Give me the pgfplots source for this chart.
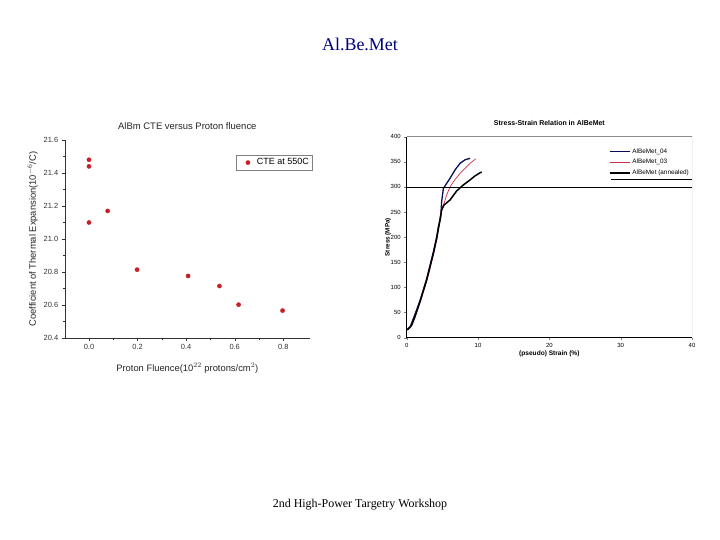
\documentclass[border=0pt]{standalone}
\usepackage{pgfplots}
\pgfplotsset{compat=1.18}
\usepackage{fontspec}
\setmainfont{Liberation Sans}
\newfontfamily\slidefont{Liberation Serif}
\definecolor{ctered}{RGB}{200,30,40}
\definecolor{navy}{RGB}{10,10,90}
\definecolor{ssred}{RGB}{200,50,70}
\definecolor{titleblue}{RGB}{0,0,128}

\begin{document}
\begin{tikzpicture}[x=1bp,y=1bp]
\path[fill=white] (0,0) rectangle (720,540);
\node[font=\slidefont\fontsize{18}{20}\selectfont, text=titleblue] at (360,496) {Al.Be.Met};
\node[font=\slidefont\fontsize{12}{14}\selectfont] at (360,35) {2nd High-Power Targetry Workshop};

% left chart: CTE vs fluence
\begin{axis}[
    at={(64.7bp,202bp)}, anchor=south west,
    scale only axis, width=245.3bp, height=198bp,
    xmin=-0.1, xmax=0.91, ymin=20.4, ymax=21.6,
    axis x line*=bottom, axis y line*=left,
    axis line style={-, black!80},
    tick align=outside, major tick length=3bp, minor tick length=1.8bp,
    tick style={black!80},
    xtick={0,0.2,0.4,0.6,0.8},
    ytick={20.4,20.6,20.8,21.0,21.2,21.4,21.6},
    minor x tick num=1, minor y tick num=1,
    xticklabel style={/pgf/number format/.cd, fixed, fixed zerofill, precision=1},
    yticklabel style={/pgf/number format/.cd, fixed, fixed zerofill, precision=1},
    /pgf/number format/assume math mode=true,
    ticklabel style={font=\fontsize{7.5}{9}\selectfont, text=black!80},
    title={AlBm CTE versus Proton fluence},
    title style={at={(axis description cs:0.5,1)}, anchor=base, yshift=5bp, font=\fontsize{9.5}{11}\selectfont, text=black!85},
    xlabel={Proton Fluence(10$^{22}$ protons/cm$^{2}$)},
    ylabel={Coefficient of Thermal Expansion(10$^{-6}$/C)},
    every axis x label/.style={at={(axis description cs:0.5,-0.152)}, anchor=center, font=\fontsize{9.4}{11}\selectfont, text=black!85},
    every axis y label/.style={at={(axis description cs:-0.13,0.5)}, rotate=90, anchor=center, font=\fontsize{9.4}{11}\selectfont, text=black!85},
    legend style={at={(1.01,0.924)}, anchor=north east, draw=black!50, font=\fontsize{9}{10}\selectfont, inner sep=1.5bp},
    legend image code/.code={\draw[#1, only marks] plot coordinates {(10bp,0bp)}; \path[draw=none] (0bp,0bp) -- (17bp,0bp);},
]
\addplot[only marks, mark=*, mark size=2.1bp, color=ctered] coordinates {
    (0,21.48) (0,21.44) (0,21.10) (0.077,21.17) (0.198,20.814)
    (0.408,20.776) (0.537,20.715) (0.616,20.602) (0.797,20.566)
};
\legend{CTE at 550C}
\end{axis}

% right chart: stress-strain
\begin{axis}[
    at={(406.7bp,202.3bp)}, anchor=south west,
    scale only axis, width=285.3bp, height=201bp,
    xmin=0, xmax=40, ymin=0, ymax=400,
    axis x line*=bottom, axis y line*=left,
    axis line style={-, black, line width=0.6bp},
    tick align=outside, major tick length=2.5bp,
    xtick={0,10,20,30,40}, ytick={0,50,100,150,200,250,300,350,400},
    /pgf/number format/assume math mode=true,
    ticklabel style={font=\fontsize{6}{7}\selectfont},
    title={\textbf{Stress-Strain Relation in AlBeMet}},
    title style={at={(axis description cs:0.5,1)}, anchor=base, yshift=5bp, font=\fontsize{7}{8}\selectfont},
    xlabel={\textbf{(pseudo) Strain (\%)}},
    ylabel={\textbf{Stress (MPa)}},
    every axis x label/.style={at={(axis description cs:0.5,-0.08)}, anchor=center, font=\fontsize{6.6}{7.5}\selectfont},
    every axis y label/.style={at={(axis description cs:-0.066,0.5)}, rotate=90, anchor=center, font=\fontsize{6.3}{7.5}\selectfont},
    legend style={at={(1,0.962)}, anchor=north east, draw=none, fill=none, font=\fontsize{6.4}{7.5}\selectfont, row sep=0.5bp, inner xsep=1bp},
    legend cell align=left,
    legend image code/.code={\draw[#1] (0bp,0bp) -- (20bp,0bp);},
]
\addplot[navy, line width=1.3bp] coordinates {
    (0,16) (0.5,22) (1.2,48) (1.9,75) (2.8,117) (3.7,168) (4.2,200)
    (4.44,221) (4.77,241) (4.9,271) (5.14,297) (5.6,307) (6.07,317)
    (6.78,334) (7.48,347) (8.18,354) (8.88,357)
};
\addplot[ssred, line width=0.7bp] coordinates {
    (0,16) (0.6,22) (1.3,48) (2.0,75) (2.9,117) (3.8,168) (4.3,200)
    (4.67,241) (4.9,257) (5.23,267) (5.6,284) (6.07,300) (6.78,315)
    (7.48,327) (8.18,337) (8.88,347) (9.67,356)
};
\addplot[black, line width=1.5bp] coordinates {
    (0,16) (0.23,17) (0.7,25) (1.17,42) (1.87,72) (2.8,115) (3.74,168)
    (4.2,198) (4.67,234) (4.9,254) (5.23,264) (6.07,274) (7.0,292)
    (7.94,304) (8.88,314) (9.58,322) (10.5,330)
};
\addplot[black, line width=0.8bp, forget plot] coordinates {(0,300) (40,300)};
\legend{AlBeMet\_04, AlBeMet\_03, AlBeMet (annealed)}
\draw[black!45, line width=0.6bp] (rel axis cs:0,1) -- (rel axis cs:1,1) -- (rel axis cs:1,0);
\draw[black, line width=0.7bp] (rel axis cs:0.716,0.786) -- (rel axis cs:1,0.786);
\end{axis}
\end{tikzpicture}
\end{document}
